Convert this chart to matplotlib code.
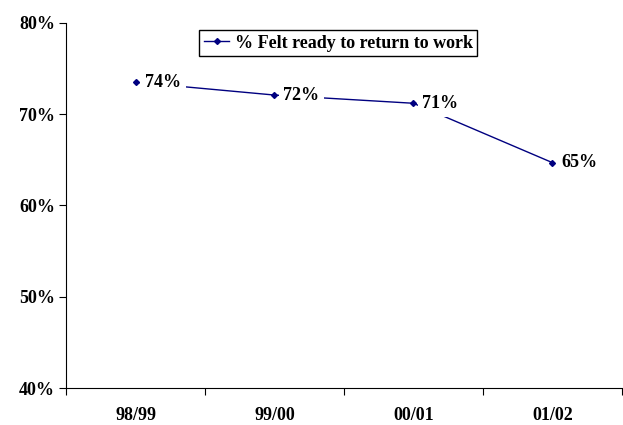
import numpy as np
import matplotlib.pyplot as plt
from matplotlib.ticker import FixedLocator, PercentFormatter

# data
years = ["98/99", "99/00", "00/01", "01/02"]
ready = [73.5, 72.1, 71.2, 64.7]
labels = ["74%", "72%", "71%", "65%"]

plt.rcParams['font.family'] = ['Liberation Serif', 'DejaVu Serif']
plt.rcParams['font.weight'] = 'bold'

fig = plt.figure(figsize=(6.23, 4.25), dpi=100)
ax = fig.add_axes([0.106, 0.087, 0.892, 0.859])

x = np.arange(len(years))
ax.plot(x, ready, color="#000080", lw=1, marker="D", ms=3,
        label="% Felt ready to return to work", zorder=2)

# value labels with white background (they hide the line underneath)
for xi, yi, lab in zip(x, ready, labels):
    ax.annotate(lab, (xi, yi), xytext=(6.5, 0), textcoords="offset points",
                ha="left", va="center", fontsize=13, fontweight="bold",
                bbox=dict(facecolor="white", edgecolor="none", pad=3.5),
                zorder=3)

ax.set_xlim(-0.5, len(years) - 0.5)
ax.set_ylim(40, 80)
ax.set_yticks([40, 50, 60, 70, 80])
ax.yaxis.set_major_formatter(PercentFormatter(decimals=0))

# ticks between categories, labels at the centres
ax.xaxis.set_major_locator(FixedLocator(np.arange(-0.5, len(years), 1)))
ax.xaxis.set_major_formatter(plt.NullFormatter())
ax.set_xticks(x, minor=True)
ax.set_xticklabels(years, minor=True)
ax.tick_params(axis="x", which="minor", length=0, pad=14, labelsize=13)
ax.tick_params(axis="x", which="major", length=5, direction="out")
ax.tick_params(axis="y", length=5, direction="out", labelsize=13, pad=3)

ax.spines["top"].set_visible(False)
ax.spines["right"].set_visible(False)

leg = ax.legend(loc="upper center", bbox_to_anchor=(0.49, 0.98),
                fancybox=False, framealpha=1, edgecolor="black",
                handlelength=1.4, borderpad=0.25, handletextpad=0.3,
                borderaxespad=0, prop={"size": 13, "weight": "bold"})
leg.get_frame().set_linewidth(1)

plt.savefig("out.png", dpi=100)
